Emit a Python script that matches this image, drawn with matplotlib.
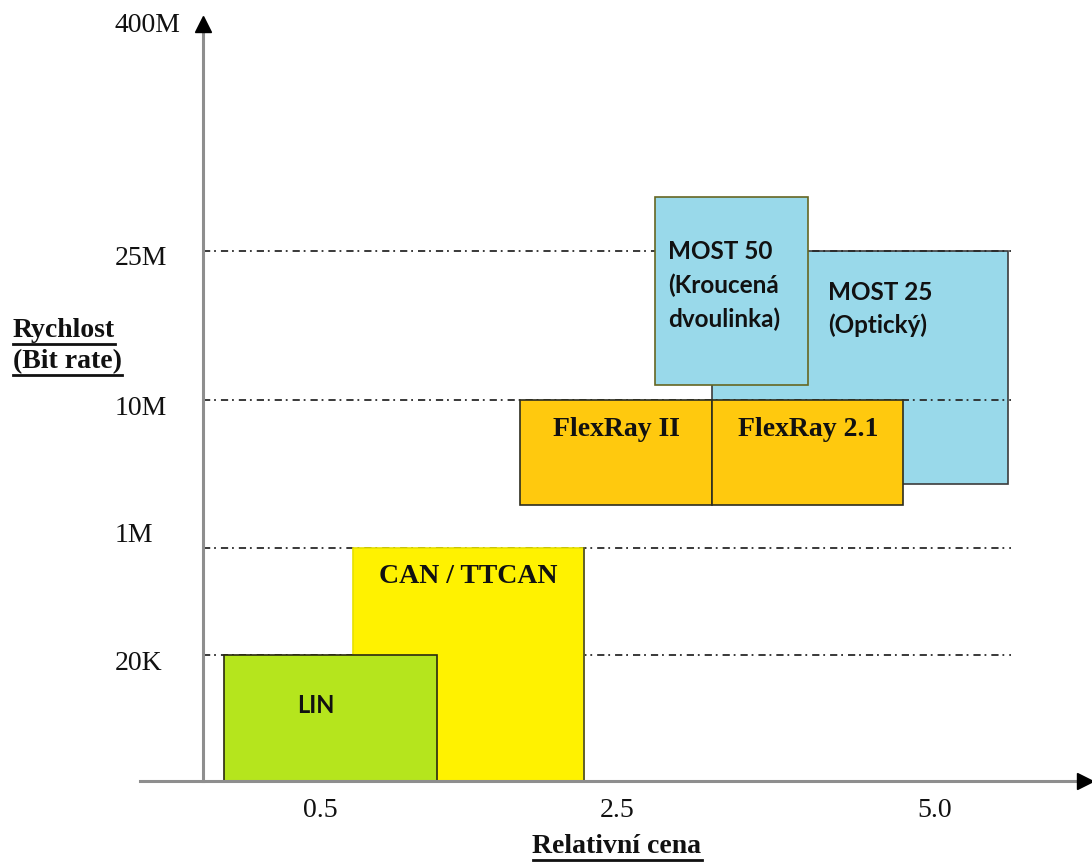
import numpy as np
import matplotlib.pyplot as plt
from matplotlib.lines import Line2D

plt.rcParams['lines.scale_dashes'] = False

#------------------------------------------------------------------
# Data
#------------------------------------------------------------------
# Urovne rychlosti (bit/s) a jejich popisky
rate_levels = [20e3, 1e6, 10e6, 25e6, 400e6]
rate_labels = ['20K', '1M', '10M', '25M', '400M']

# Relativni cena
cost_ticks = [0.5, 2.5, 5.0]
cost_labels = ['0.5', '2.5', '5.0']

# Sbernice: rozsah ceny a rychlosti
bus_names = ['MOST 25', 'CAN / TTCAN', 'LIN', 'FlexRay II', 'FlexRay 2.1', 'MOST 50']
cost_lo = [3.25, 0.72, 0.09, 1.85, 3.25, 2.80]
cost_hi = [5.57, 2.28, 1.29, 3.25, 4.75, 4.00]
rate_lo = [2.7e6, 1e3, 1e3, 1.95e6, 1.95e6, 11e6]
rate_hi = [25e6, 1e6, 20e3, 10e6, 10e6, 48e6]

#------------------------------------------------------------------
# Schematic (non-proportional) scales
#------------------------------------------------------------------
x_anchor = [-0.871, 0.0, 0.5, 2.5, 5.0, 6.234]
x_pos = [0, 203, 320, 617, 935, 1092]
y_anchor = [2.143, 3.0, np.log10(20e3), 6.0, 7.0, np.log10(25e6), np.log10(400e6), 8.706]
y_pos = [0, 83, 209, 316, 464, 613, 844, 864]


def x_fwd(v):
    return np.interp(v, x_anchor, x_pos)


def x_inv(p):
    return np.interp(p, x_pos, x_anchor)


def y_fwd(v):
    v = np.clip(np.asarray(v, dtype=float), 1e-9, None)
    return np.interp(np.log10(v), y_anchor, y_pos)


def y_inv(p):
    return 10 ** np.interp(p, y_pos, y_anchor)


fig = plt.figure(figsize=(10.92, 8.64), dpi=100)
ax = fig.add_axes([0, 0, 1, 1])
ax.set_xscale('function', functions=(x_fwd, x_inv))
ax.set_yscale('function', functions=(y_fwd, y_inv))
ax.set_xlim(x_anchor[0], x_anchor[-1])
ax.set_ylim(10 ** y_anchor[0], 10 ** y_anchor[-1])
ax.axis('off')

serif = 'Liberation Serif'
sans = 'Lato'

#------------------------------------------------------------------
# Boxes
#------------------------------------------------------------------
face = {'MOST 25': '#99d9ea', 'CAN / TTCAN': '#fff200', 'LIN': '#b5e51d',
        'FlexRay II': '#ffc90e', 'FlexRay 2.1': '#ffc90e', 'MOST 50': '#99d9ea'}
edge = {'MOST 25': '#3c3c3c', 'CAN / TTCAN': '#e6e000', 'LIN': '#2a2a10',
        'FlexRay II': '#2e2e20', 'FlexRay 2.1': '#2e2e20', 'MOST 50': '#666622'}
zord = {'MOST 25': 1, 'CAN / TTCAN': 3, 'LIN': 4,
        'FlexRay II': 3, 'FlexRay 2.1': 3, 'MOST 50': 4}

for i, name in enumerate(bus_names):
    ax.bar(cost_lo[i], rate_hi[i] - rate_lo[i], bottom=rate_lo[i],
           width=cost_hi[i] - cost_lo[i], align='edge',
           color=face[name], edgecolor=edge[name], linewidth=1.2,
           zorder=zord[name])

# CAN ma tmavou jen pravou hranu
i_can = bus_names.index('CAN / TTCAN')
ax.plot([cost_hi[i_can], cost_hi[i_can]], [rate_lo[i_can], rate_hi[i_can]],
        color='#4a4a30', lw=1.2, zorder=3.5)

# Carkovane urovne
for lev in rate_levels[:-1]:
    ax.plot([0.0, 5.6], [lev, lev], color='#2a2a2a', lw=1.3,
            linestyle=(0, (5.2, 2.8, 1.3, 3.6)), zorder=2)

#------------------------------------------------------------------
# Osy se sipkami
#------------------------------------------------------------------
axis_bottom = 1e3
axis_top = 3.8e8
ax.plot([0, 0], [axis_bottom, axis_top], color='#8e8e8e', lw=2.2, zorder=6)
ax.plot([0], [axis_top], marker='^', ms=11, color='black', zorder=7)
ax.plot([-0.27, 6.12], [axis_bottom, axis_bottom], color='#8e8e8e', lw=2.2, zorder=6)
ax.plot([6.18], [axis_bottom], marker='>', ms=11, color='black', zorder=7)

#------------------------------------------------------------------
# Popisky os
#------------------------------------------------------------------
tick_dy = [-15, 6, -15, -14, -12]
for lev, lab, dy in zip(rate_levels, rate_labels, tick_dy):
    ax.annotate(lab, (-0.378, lev), xytext=(0, dy), textcoords='offset pixels',
                ha='left', va='baseline', fontsize=20, family=serif, color='#111111')

for c, lab in zip(cost_ticks, cost_labels):
    ax.annotate(lab, (c, axis_bottom), xytext=(0, -36), textcoords='offset pixels',
                ha='center', va='baseline', fontsize=20, family=serif, color='#111111')

# Nazvy sbernic v ramecku
def box_label(name, lines, dx, dys, ha, family, size):
    i = bus_names.index(name)
    if ha == 'center':
        x = x_inv((x_fwd(cost_lo[i]) + x_fwd(cost_hi[i])) / 2)
    else:
        x = cost_lo[i]
    for line, dy in zip(lines, dys):
        ax.annotate(line, (x, rate_hi[i]), xytext=(dx, -dy), textcoords='offset pixels',
                    ha=ha, va='baseline', fontsize=size, family=family,
                    fontweight='bold', color='#111111', zorder=10)

box_label('CAN / TTCAN', ['CAN / TTCAN'], 0, [35], 'center', serif, 20)
box_label('FlexRay II', ['FlexRay II'], 0, [36], 'center', serif, 20)
box_label('FlexRay 2.1', ['FlexRay 2.1'], 0, [36], 'center', serif, 20)
box_label('LIN', ['LIN'], -15, [58], 'center', sans, 17)
box_label('MOST 50', ['MOST 50', '(Kroucená', 'dvoulinka)'], 13, [62, 96, 130], 'left', sans, 17.5)
box_label('MOST 25', ['MOST 25', '(Optický)'], 116, [49, 82], 'left', sans, 17.5)

#------------------------------------------------------------------
# Podtrzene nazvy os
#------------------------------------------------------------------
W, H = 1092, 864
titles = [('Rychlost', 13, 337, 'left'), ('(Bit rate)', 13, 368, 'left'),
          ('Relativní cena', 617, 853, 'center')]
renderer = fig.canvas.get_renderer()
for txt, px, py, ha in titles:
    t = fig.text(px / W, 1 - py / H, txt, ha=ha, va='baseline', fontsize=20,
                 family=serif, fontweight='bold', color='#111111')
    bb = t.get_window_extent(renderer)
    uy = (1 - py / H) - 7 / H
    fig.add_artist(Line2D([bb.x0 / W, bb.x1 / W], [uy, uy], color='#111111', lw=2.0))

fig.savefig('out.png', dpi=100)
plt.close('all')
